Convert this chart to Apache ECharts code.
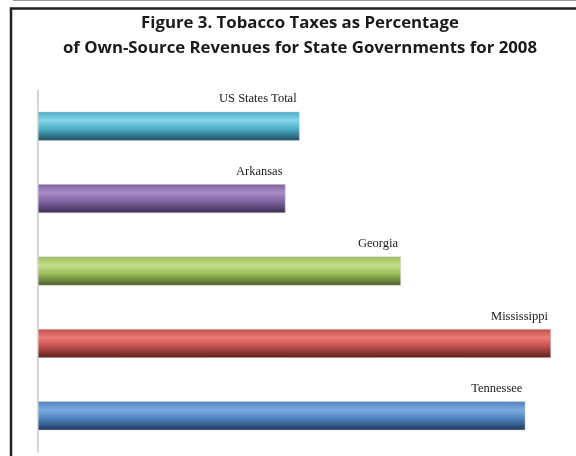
<!DOCTYPE html>
<html>
<head>
<meta charset="utf-8">
<script src="https://cdn.jsdelivr.net/npm/echarts@6/dist/echarts.min.js"></script>
<style>
  html, body { margin: 0; padding: 0; background: #fff; }
  #chart { width: 576px; height: 456px; }
</style>
</head>
<body>
<div id="chart"></div>
<script>
// tobacco taxes, % of own-source revenue
var states = ['US States Total', 'Arkansas', 'Georgia', 'Mississippi', 'Tennessee']
var shares = [2.04, 1.93, 2.83, 4.0, 3.8]
var baseColors = ['#4BACC6', '#8064A2', '#9BBB59', '#C0504D', '#4F81BD']
var lightColors = ['#86D6EC', '#A78CC6', '#C4E089', '#EE7A77', '#7EAAE0']
var darkColors = ['#1D4E5B', '#3A2A4F', '#4A5C25', '#5E1F1D', '#1E3A5E']

function barColor(i) {
  return new echarts.graphic.LinearGradient(0, 0, 0, 1, [
    { offset: 0, color: baseColors[i] },
    { offset: 0.3, color: lightColors[i] },
    { offset: 0.6, color: baseColors[i] },
    { offset: 1, color: darkColors[i] }
  ])
}

var chart = echarts.init(document.getElementById('chart'))
chart.setOption({
  animation: false,
  title: {
    text: 'Figure 3. Tobacco Taxes as Percentage\nof Own-Source Revenues for State Governments for 2008',
    left: 295,
    textAlign: 'center',
    top: 6,
    textStyle: {
      fontFamily: 'Open Sans',
      fontWeight: 'bold',
      fontSize: 16.8,
      lineHeight: 25,
      color: '#1a1a1a'
    }
  },
  graphic: [
    { type: 'line', shape: { x1: 13, y1: 0.5, x2: 576, y2: 0.5 }, style: { stroke: '#999', lineWidth: 1 } },
    { type: 'polyline', shape: { points: [[11, 456], [11, 8.5], [576, 8.5]] }, style: { stroke: '#222', lineWidth: 2.5, fill: null } }
  ],
  grid: { left: 38, right: 25, top: 90, bottom: 4 },
  xAxis: {
    type: 'value',
    min: 0,
    max: 4,
    show: false
  },
  yAxis: {
    type: 'category',
    data: states,
    inverse: true,
    axisLine: { lineStyle: { color: '#c8c8c8', width: 1.5 } },
    axisTick: { show: false },
    axisLabel: { show: false }
  },
  series: [
    {
      type: 'bar',
      barWidth: 29,
      data: shares.map(function (v, i) {
        return {
          value: v,
          itemStyle: { color: barColor(i), borderColor: '#d8d8d8', borderWidth: 0.5 }
        }
      }),
      label: {
        show: true,
        position: 'insideTopRight',
        distance: 0,
        offset: [-3, -19],
        formatter: function (p) { return p.name },
        fontFamily: 'Liberation Serif',
        fontSize: 12.5,
        color: '#1a1a1a'
      }
    }
  ]
})
</script>
</body>
</html>
